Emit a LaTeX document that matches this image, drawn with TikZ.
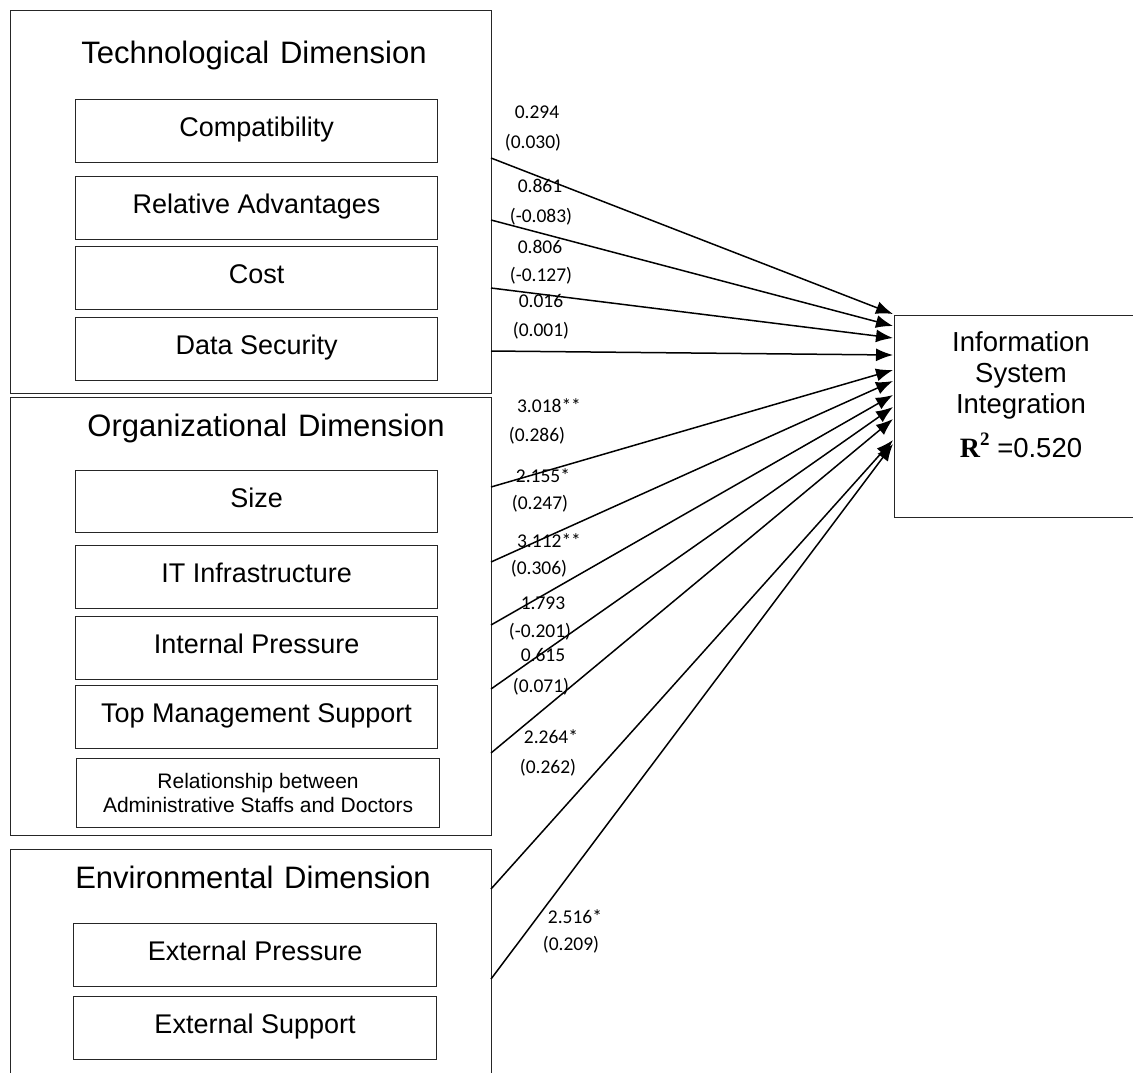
\documentclass[tikz,border=0pt]{standalone}
\usepackage{fontspec}
\setmainfont{Liberation Sans}
\newfontfamily\arialf{Liberation Sans}
\newfontfamily\calf{Carlito}
\newfontfamily\timesf{Liberation Serif}
\usetikzlibrary{arrows.meta}
\begin{document}
\begin{tikzpicture}[x=1pt,y=-1pt,
  outerbox/.style={draw=black!85, line width=1.2pt, anchor=north west, inner sep=0pt},
  innerbase/.style={draw=black!85, line width=1.1pt, anchor=north west, inner sep=0pt},
  innerbox/.style={innerbase, font=\arialf\fontsize{27}{27}\selectfont, text height=19pt, text depth=8pt},
  titletext/.style={anchor=base, inner sep=0pt, font=\arialf\fontsize{31}{31}\selectfont},
  isitext/.style={inner sep=0pt, anchor=base, font=\arialf\fontsize{27.5}{27.5}\selectfont},
  lab/.style={inner sep=0pt, font=\calf\fontsize{19.5}{19.5}\selectfont},
  arr/.style={line width=1.5pt, -{Latex[length=17pt,width=13pt]}}]
\useasboundingbox (0,0) rectangle (1133,1072);
% outer dimension boxes
\node[outerbox, minimum width=481pt, minimum height=383pt] (tech) at (10,10) {};
\node[outerbox, minimum width=481pt, minimum height=438pt] (org) at (10,397) {};
\node[outerbox, minimum width=481pt, minimum height=240pt] (env) at (10,849) {};
% titles
\node[titletext] (ttech) at (254,63) {Technological\hspace{0.35em}Dimension};
\node[titletext] (torg) at (266,436) {Organizational\hspace{0.35em}Dimension};
\node[titletext] (tenv) at (253,888) {Environmental\hspace{0.35em}Dimension};
% technological items
\node[innerbox, minimum width=362pt, minimum height=63pt] (compat) at (75,99) {Compatibility};
\node[innerbox, minimum width=362pt, minimum height=63pt] (relad) at (75,176) {Relative Advantages};
\node[innerbox, minimum width=362pt, minimum height=63pt] (cost) at (75,246) {Cost};
\node[innerbox, minimum width=362pt, minimum height=63pt] (datasec) at (75,317) {Data Security};
% organizational items
\node[innerbox, minimum width=362pt, minimum height=62pt] (size) at (75,470) {Size};
\node[innerbox, minimum width=362pt, minimum height=63pt] (itinf) at (75,545) {IT Infrastructure};
\node[innerbox, minimum width=362pt, minimum height=63pt] (intpr) at (75,616) {Internal Pressure};
\node[innerbox, minimum width=362pt, minimum height=63pt] (topmgmt) at (75,685) {Top Management Support};
\node[innerbase, minimum width=363pt, minimum height=69pt, align=center,
      font=\arialf\fontsize{21}{24}\selectfont] (relat) at (76,758)
      {Relationship\hspace{0.3em}between\\Administrative Staffs and Doctors};
% environmental items
\node[innerbox, minimum width=363pt, minimum height=63pt] (extpr) at (73,923) {External Pressure};
\node[innerbox, minimum width=363pt, minimum height=63pt] (extsup) at (73,996) {External Support};
% dependent variable box
\node[outerbox, minimum width=245pt, minimum height=202pt] (isi) at (894,315) {};
\node[isitext] (isi1) at (1021,351) {Information};
\node[isitext] (isi2) at (1021,382) {System};
\node[isitext] (isi3) at (1021,413) {Integration};
\node[isitext] (isi4) at (1021,457)
  {{\timesf\bfseries\fontsize{28}{28}\selectfont R\raisebox{0.42em}{\fontsize{19}{19}\selectfont 2}} =0.520};
% connector start points
\coordinate (s1) at (491,158);
\coordinate (s2) at (491,220);
\coordinate (s3) at (491,288);
\coordinate (s4) at (491,351);
\coordinate (s5) at (491,487);
\coordinate (s6) at (491,562);
\coordinate (s7) at (491,625);
\coordinate (s8) at (491,689);
\coordinate (s9) at (491,753);
\coordinate (s10) at (491,889);
\coordinate (s11) at (491,979);
% connector end points
\coordinate (e1) at (893,314);
\coordinate (e2) at (893,326);
\coordinate (e3) at (893,338);
\coordinate (e4) at (893,355);
\coordinate (e5) at (893,370);
\coordinate (e6) at (893,381);
\coordinate (e7) at (893,395);
\coordinate (e8) at (893,407);
\coordinate (e9) at (893,419);
\coordinate (e10) at (893,440);
\coordinate (e11) at (893,444);
\foreach \i in {1,...,11} {\draw[arr] (s\i) -- (e\i);}
% path labels
\node[lab] (l1a) at (537,112) {0.294};
\node[lab] (l1b) at (533,143) {(0.030)};
\node[lab] (l2a) at (540,186) {0.861};
\node[lab] (l2b) at (541,217) {(-0.083)};
\node[lab] (l3a) at (540,247) {0.806};
\node[lab] (l3b) at (541,276) {(-0.127)};
\node[lab] (l4a) at (541,301) {0.016};
\node[lab] (l4b) at (541,331) {(0.001)};
\node[lab] (l5a) at (549,406) {3.018**};
\node[lab] (l5b) at (537,436) {(0.286)};
\node[lab] (l6a) at (543,476) {2.155*};
\node[lab] (l6b) at (540,504) {(0.247)};
\node[lab] (l7a) at (549,541) {3.112**};
\node[lab] (l7b) at (539,569) {(0.306)};
\node[lab] (l8a) at (543,603) {1.793};
\node[lab] (l8b) at (540,632) {(-0.201)};
\node[lab] (l9a) at (543,655) {0.615};
\node[lab] (l9b) at (541,687) {(0.071)};
\node[lab] (l10a) at (551,737) {2.264*};
\node[lab] (l10b) at (548,768) {(0.262)};
\node[lab] (l11a) at (575,917) {2.516*};
\node[lab] (l11b) at (571,945) {(0.209)};
\end{tikzpicture}
\end{document}
